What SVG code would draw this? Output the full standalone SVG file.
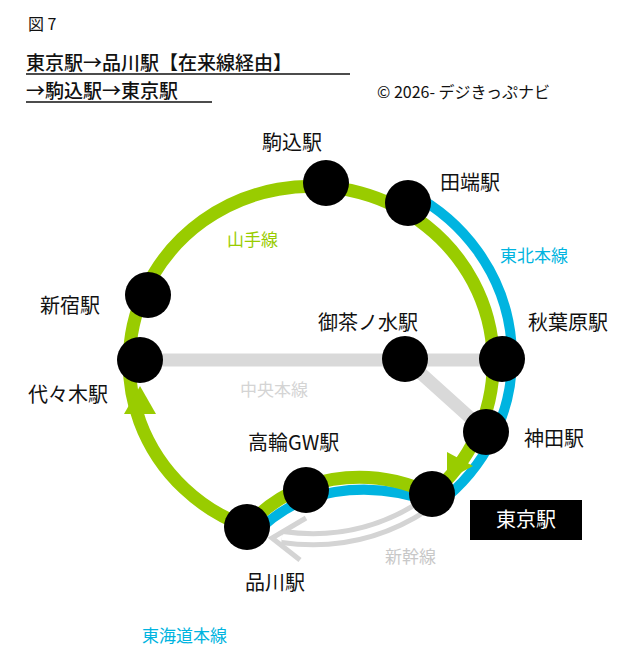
<svg xmlns="http://www.w3.org/2000/svg" width="640" height="672" viewBox="0 0 640 672">
<style>
text{font-family:"Noto Sans CJK JP","Noto Sans",sans-serif;}
.lbl{font-size:20px;fill:#111;}
.ln{font-size:17px;}
.st{fill:#000;}
</style>
<rect width="640" height="672" fill="#fff"/>
<g id="title">
<text x="28" y="30" font-size="16" fill="#111">図 7</text>
<text x="26" y="70" font-size="19" font-weight="500" fill="#111">東京駅→品川駅【在来線経由】</text>
<line x1="26" y1="74" x2="350" y2="74" stroke="#111" stroke-width="1.5"/>
<text x="26" y="98" font-size="19" font-weight="500" fill="#111">→駒込駅→東京駅</text>
<line x1="26" y1="102" x2="212" y2="102" stroke="#111" stroke-width="1.5"/>
<text x="377" y="98" font-size="16" fill="#111">© 2026- デジきっぷナビ</text>
</g>
<g id="connectors" fill="none">
<path d="M140,360 H502 M405,359 L486,432" stroke="#d9d9d9" stroke-width="13"/>
<path d="M425,505 Q360,548 282,537" stroke="#d4d4d4" stroke-width="16"/>
<path d="M425,505 Q360,548 282,537" stroke="#fff" stroke-width="6"/>
<path d="M306,518 L272,538 L300,560" stroke="#d4d4d4" stroke-width="5" stroke-linejoin="miter"/>
<path d="M412,194 A192,186 0 0 1 438,504 Q370,478 306,499 Q275,512 253,536" stroke="#00b4e0" stroke-width="10"/>
<path d="M432,494 Q370,465 306,486 Q270,500 247,527 A182,176 0 1 1 432,494" stroke="#99cc00" stroke-width="13"/>
<polygon points="140,386 124,414 156,414" fill="#99cc00"/>
<polygon points="447,480 447,452 473,466" fill="#99cc00"/>
</g>
<g id="stations">
<circle class="st" cx="326" cy="183" r="23"/>
<circle class="st" cx="408" cy="203" r="23"/>
<circle class="st" cx="148" cy="295" r="23"/>
<circle class="st" cx="140" cy="360" r="23"/>
<circle class="st" cx="405" cy="359" r="23"/>
<circle class="st" cx="502" cy="359" r="23"/>
<circle class="st" cx="486" cy="432" r="23"/>
<circle class="st" cx="432" cy="494" r="23"/>
<circle class="st" cx="306" cy="490" r="23"/>
<circle class="st" cx="247" cy="527" r="23"/>
</g>
<g id="labels">
<text class="lbl" x="262" y="150">駒込駅</text>
<text class="lbl" x="440" y="190">田端駅</text>
<text class="lbl" x="40" y="313">新宿駅</text>
<text class="lbl" x="28" y="402">代々木駅</text>
<text class="lbl" x="318" y="330">御茶ノ水駅</text>
<text class="lbl" x="528" y="330">秋葉原駅</text>
<text class="lbl" x="524" y="446">神田駅</text>
<text class="lbl" x="248" y="450">高輪GW駅</text>
<text class="lbl" x="245" y="590">品川駅</text>
<text class="ln" x="227" y="246" fill="#99cc00">山手線</text>
<text class="ln" x="500" y="262" fill="#00b4e0">東北本線</text>
<text class="ln" x="240" y="396" fill="#d4d4d4">中央本線</text>
<text class="ln" x="385" y="563" fill="#c8c8c8">新幹線</text>
<text class="ln" x="142" y="642" fill="#00b4e0">東海道本線</text>
</g>
<g id="tokyo-box">
<rect x="470" y="500" width="112" height="40" fill="#000"/>
<text x="526" y="527" font-size="20" fill="#fff" text-anchor="middle">東京駅</text>
</g>
</svg>
